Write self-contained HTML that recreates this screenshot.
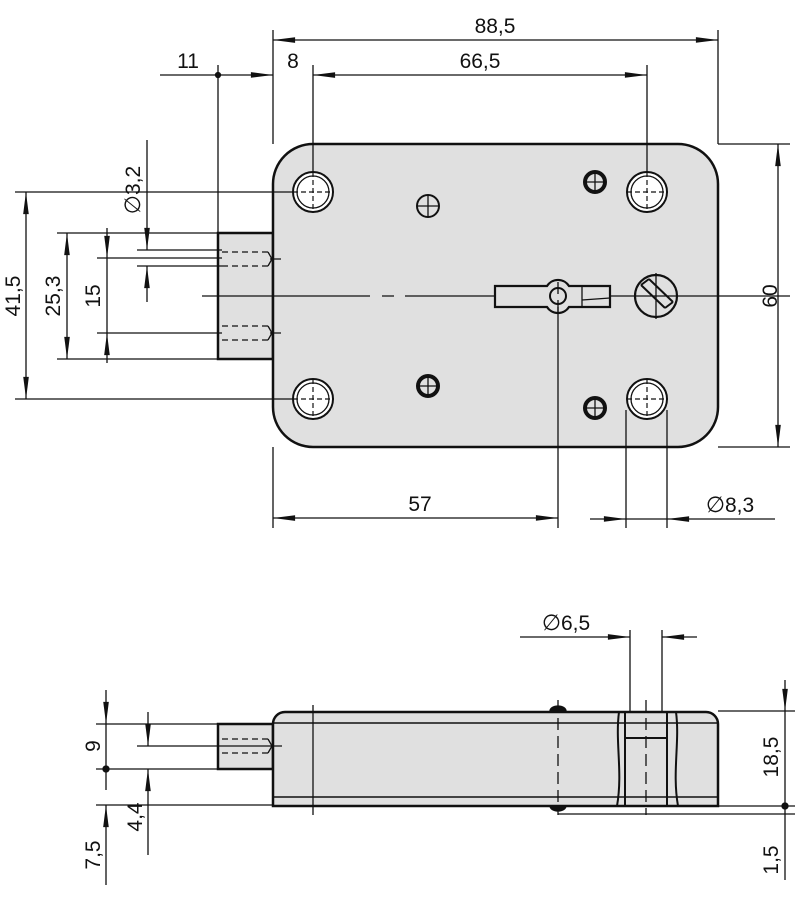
<!DOCTYPE html><html><head><style>body{margin:0;background:#fff}svg{display:block}text{font-family:"Liberation Sans",sans-serif;font-size:21px;fill:#111}.d{font-family:"DejaVu Sans",sans-serif;font-size:22px}</style></head><body>
<svg width="800" height="915" viewBox="0 0 800 915" xmlns="http://www.w3.org/2000/svg">
<defs><marker id="a" viewBox="0 0 10 4" refX="10" refY="2" markerWidth="10" markerHeight="4" markerUnits="userSpaceOnUse" orient="auto-start-reverse" style="overflow:visible"><path d="M0,0L10,2L0,4z" fill="#111" transform="scale(2.2,1.4) translate(-5.5,-0.6)"/></marker></defs>
<g stroke="#111" stroke-width="1.3" fill="none">
<rect x="218" y="233" width="55" height="126" fill="#e0e0e0" stroke-width="2.5"/>
<rect x="273" y="144" width="445" height="303" rx="40" fill="#e0e0e0" stroke-width="2.5"/>
<g stroke-dasharray="6,4"><path d="M222 252H268M222 266H268M222 326H268M222 340H268"/></g>
<path d="M268 252l4 7-4 7M268 326l4 7-4 7M270 259h11M270 333h11"/>
<g fill="#fff" stroke-width="2">
<circle cx="313" cy="192" r="20"/><circle cx="647" cy="192" r="20"/><circle cx="313" cy="399" r="20"/><circle cx="647" cy="399" r="20"/>
</g>
<g stroke-width="1.3"><circle cx="313" cy="192" r="16"/><circle cx="647" cy="192" r="16"/><circle cx="313" cy="399" r="16"/><circle cx="647" cy="399" r="16"/></g>
<g stroke-width="1.2" stroke-dasharray="5,3"><path d="M293 192h41M313 172v41M627 192h41M647 172v41M293 399h41M313 379v41M627 399h41M647 379v41"/></g>
<circle cx="428" cy="206" r="11" stroke-width="2"/>
<circle cx="428" cy="386" r="10" stroke-width="4"/>
<circle cx="595" cy="182" r="10" stroke-width="4"/>
<circle cx="595" cy="408" r="10" stroke-width="4"/>
<path d="M418 206h20M428 196v20M418 386h20M428 376v20M585 182h20M595 172v20M585 408h20M595 398v20"/>
<path d="M495 286h52a13 13 0 0 1 22 0h41v21h-41a13 13 0 0 1-22 0h-52z" fill="#e0e0e0" stroke-width="2.2"/>
<path d="M582 286v21M582 300l28-2"/>
<circle cx="558" cy="296" r="8" stroke-width="2"/>
<circle cx="656" cy="296" r="21" stroke-width="2.2"/>
<path d="M641 285l24 23M649 279l24 23M641 285l8-6M665 308l8-6" stroke-width="2"/>
<path d="M202 296H370M382 296h12M405 296H495M610 296H790M558 282v12M558 300v14M656 273v46"/>
<path d="M273 30V144M718 30V144M313 65V172M647 65V172M218 65V233M718 144H790M718 447H790M15 192H293M15 399H293M57 233H218M57 359H218M97 258H222M97 333H222M137 250H222M137 266H222M273 447V528M558 307V528M626 410V528M667 410V528"/>
<path d="M273 40H718" marker-start="url(#a)" marker-end="url(#a)"/>
<path d="M313 75H647" marker-start="url(#a)" marker-end="url(#a)"/>
<path d="M160 75H273" marker-end="url(#a)"/>
<path d="M778 144V447" marker-start="url(#a)" marker-end="url(#a)"/>
<path d="M26 192V399" marker-start="url(#a)" marker-end="url(#a)"/>
<path d="M67 233V359" marker-start="url(#a)" marker-end="url(#a)"/>
<path d="M107 228V258" marker-end="url(#a)"/><path d="M107 363V333" marker-end="url(#a)"/><path d="M107 258V333"/>
<path d="M147 140V250" marker-end="url(#a)"/><path d="M147 302V266" marker-end="url(#a)"/>
<path d="M273 518H558" marker-start="url(#a)" marker-end="url(#a)"/>
<path d="M590 519H626" marker-end="url(#a)"/><path d="M775 519H667" marker-end="url(#a)"/><path d="M626 519h41"/>
<circle cx="218" cy="75" r="2.5" fill="#111"/>
<rect x="218" y="724" width="55" height="45" fill="#e0e0e0" stroke-width="2.5"/>
<path d="M273 806V724a12 12 0 0 1 12-12H706a12 12 0 0 1 12 12V806Z" fill="#e0e0e0" stroke-width="2.5"/>
<path d="M273 797H718M273 723H718" stroke-width="1.5"/>
<path d="M222 739H268M222 753H268" stroke-dasharray="6,4"/>
<path d="M268 739l4 7-4 7M212 746H282"/>
<path d="M313 705V815"/>
<path d="M558 700V815" stroke-dasharray="12,6"/>
<path d="M550 711a8 5 0 0 1 16 0M550 806a8 5 0 0 0 16 0" fill="#111"/>
<path d="M619 712c-4 30 4 60-2 94M676 712c4 30-4 60 2 94" stroke-width="2"/>
<path d="M625 712V806M667 712V806M625 738H667" stroke-width="2"/>
<path d="M646 700V815" stroke-dasharray="12,6"/>
<path d="M630 630V712M662 630V712"/>
<path d="M520 637H630" marker-end="url(#a)"/><path d="M697 637H662" marker-end="url(#a)"/>
<path d="M96 724H218M96 769H218M96 805H273M137 746H212M718 711H795M560 806H795M558 814H795"/>
<path d="M106 690V724" marker-end="url(#a)"/><path d="M106 724V769"/><path d="M106 885V805" marker-end="url(#a)"/><path d="M106 769V790"/>
<path d="M148 712V746" marker-end="url(#a)"/><path d="M148 855V769" marker-end="url(#a)"/>
<path d="M785 680V711" marker-end="url(#a)"/><path d="M785 711V806M785 806V880"/>
<circle cx="106" cy="769" r="3" fill="#111"/><circle cx="785" cy="806" r="3" fill="#111"/>
</g>
<g>
<text x="495" y="33" text-anchor="middle">88,5</text>
<text x="480" y="68" text-anchor="middle">66,5</text>
<text x="293" y="68" text-anchor="middle">8</text>
<text x="188" y="68" text-anchor="middle">11</text>
<text x="420" y="511" text-anchor="middle">57</text>
<text x="730" y="512" text-anchor="middle"><tspan class="d">∅</tspan>8,3</text>
<text x="566" y="630" text-anchor="middle"><tspan class="d">∅</tspan>6,5</text>
<text transform="translate(777,296) rotate(-90)" text-anchor="middle">60</text>
<text transform="translate(20,296) rotate(-90)" text-anchor="middle">41,5</text>
<text transform="translate(60,296) rotate(-90)" text-anchor="middle">25,3</text>
<text transform="translate(100,296) rotate(-90)" text-anchor="middle">15</text>
<text transform="translate(140,190) rotate(-90)" text-anchor="middle"><tspan class="d">∅</tspan>3,2</text>
<text transform="translate(100,746) rotate(-90)" text-anchor="middle">9</text>
<text transform="translate(142,817) rotate(-90)" text-anchor="middle">4,4</text>
<text transform="translate(100,855) rotate(-90)" text-anchor="middle">7,5</text>
<text transform="translate(778,757) rotate(-90)" text-anchor="middle">18,5</text>
<text transform="translate(778,860) rotate(-90)" text-anchor="middle">1,5</text>
</g>
</svg></body></html>
